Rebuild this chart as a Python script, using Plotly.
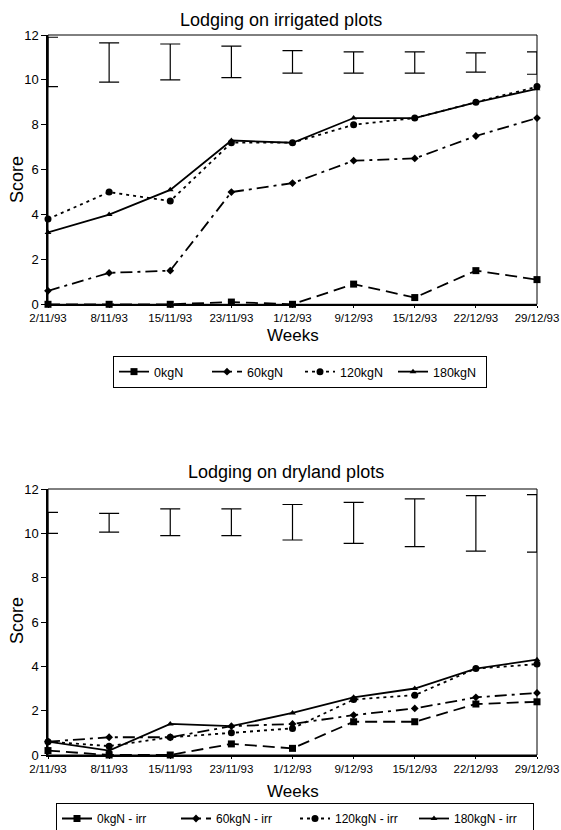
import plotly.graph_objects as go

weeks = ["2/11/93", "8/11/93", "15/11/93", "23/11/93", "1/12/93",
         "9/12/93", "15/12/93", "22/12/93", "29/12/93"]

# Irrigated plots
irr_0 = [0, 0, 0, 0.1, 0, 0.9, 0.3, 1.5, 1.1]
irr_60 = [0.6, 1.4, 1.5, 5.0, 5.4, 6.4, 6.5, 7.5, 8.3]
irr_120 = [3.8, 5.0, 4.6, 7.2, 7.2, 8.0, 8.3, 9.0, 9.7]
irr_180 = [3.2, 4.0, 5.1, 7.3, 7.2, 8.3, 8.3, 9.0, 9.6]
irr_bar_top = [11.9, 11.65, 11.6, 11.5, 11.3, 11.25, 11.25, 11.2, 11.25]
irr_bar_bottom = [9.7, 9.9, 10.0, 10.1, 10.3, 10.3, 10.3, 10.35, 10.25]

# Dryland plots
dry_0 = [0.2, 0, 0, 0.5, 0.3, 1.5, 1.5, 2.3, 2.4]
dry_60 = [0.6, 0.8, 0.8, 1.3, 1.4, 1.8, 2.1, 2.6, 2.8]
dry_120 = [0.6, 0.4, 0.8, 1.0, 1.2, 2.5, 2.7, 3.9, 4.1]
dry_180 = [0.6, 0.2, 1.4, 1.3, 1.9, 2.6, 3.0, 3.9, 4.3]
dry_bar_top = [10.95, 10.9, 11.1, 11.1, 11.3, 11.4, 11.55, 11.7, 11.75]
dry_bar_bottom = [10.0, 10.05, 9.9, 9.9, 9.7, 9.55, 9.4, 9.2, 9.15]

top_names = ["0kgN", "60kgN", "120kgN", "180kgN"]
bottom_names = ["0kgN - irr", "60kgN - irr", "120kgN - irr", "180kgN - irr"]

styles = [
    dict(dash="12px,6px", symbol="square", size=7),
    dict(dash="12px,5px,3px,5px", symbol="diamond", size=6),
    dict(dash="3px,4px", symbol="circle", size=7),
    dict(dash="solid", symbol="triangle-up", size=6),
]

FONT = "Liberation Sans, Arial, sans-serif"
xs = list(range(len(weeks)))

fig = go.Figure()


def add_panel(series, names, bar_top, bar_bottom, xa, ya, legend):
    mid = [(t + b) / 2 for t, b in zip(bar_top, bar_bottom)]
    half = [(t - b) / 2 for t, b in zip(bar_top, bar_bottom)]
    fig.add_trace(go.Scatter(
        x=xs, y=mid, mode="markers", xaxis=xa, yaxis=ya,
        marker=dict(size=1, color="rgba(0,0,0,0)"),
        error_y=dict(type="data", array=half, visible=True, color="black",
                     thickness=1.2, width=10),
        showlegend=False, hoverinfo="skip", cliponaxis=True,
    ))
    for vals, name, st in zip(series, names, styles):
        fig.add_trace(go.Scatter(
            x=xs, y=vals, name=name, mode="lines+markers",
            xaxis=xa, yaxis=ya, legend=legend, cliponaxis=False,
            line=dict(color="black", width=1.8, dash=st["dash"]),
            marker=dict(symbol=st["symbol"], size=st["size"], color="black"),
        ))


add_panel([irr_0, irr_60, irr_120, irr_180], top_names,
          irr_bar_top, irr_bar_bottom, "x", "y", "legend")
add_panel([dry_0, dry_60, dry_120, dry_180], bottom_names,
          dry_bar_top, dry_bar_bottom, "x2", "y2", "legend2")

W, H = 561, 830
# plot-area edges in page pixels
P_LEFT, P_RIGHT, P_TOP, P_BOTTOM = 48, 537, 35, 755
L, R, T, B = P_LEFT, W - P_RIGHT, P_TOP, H - P_BOTTOM
plot_h = H - T - B
plot_w = W - L - R


def py(page_y):
    return (H - B - page_y) / plot_h


def pxx(page_x):
    return (page_x - L) / plot_w


def cx(page_x):
    return page_x / W


xaxis_common = dict(
    range=[0, 8], tickmode="array", tickvals=xs, ticktext=weeks,
    showline=True, linecolor="black", linewidth=1.5,
    ticks="outside", ticklen=2, tickcolor="black",
    showgrid=False, zeroline=False,
    tickfont=dict(family=FONT, size=11.5, color="black"),
)
yaxis_common = dict(
    range=[0, 12], dtick=2, showline=True, linecolor="black", linewidth=1.5,
    ticks="outside", ticklen=5, tickcolor="black",
    showgrid=False, zeroline=False,
    tickfont=dict(family=FONT, size=13, color="black"),
)

fig.update_layout(
    width=W, height=H,
    margin=dict(l=L, r=R, t=T, b=B, autoexpand=False),
    paper_bgcolor="white", plot_bgcolor="white",
    font=dict(family=FONT, color="black"),
    xaxis=dict(**xaxis_common, anchor="y"),
    yaxis=dict(**yaxis_common, domain=[py(304.3), 1], anchor="x"),
    xaxis2=dict(**xaxis_common, anchor="y2"),
    yaxis2=dict(**yaxis_common, domain=[0, py(489)], anchor="x2"),
    legend=dict(orientation="h", xref="container", x=cx(300), xanchor="center",
                y=py(356), yanchor="top", bordercolor="black", borderwidth=1,
                font=dict(family=FONT, size=12.5, color="black"),
                bgcolor="white", entrywidth=48),
    legend2=dict(orientation="h", xref="container", x=cx(295), xanchor="center",
                 y=py(803), yanchor="top", bordercolor="black", borderwidth=1,
                 font=dict(family=FONT, size=12, color="black"),
                 bgcolor="white", entrywidth=74),
    showlegend=True,
)

# Plot-area frame (top and right borders)
for xr, yr in (("x domain", "y domain"), ("x2 domain", "y2 domain")):
    fig.add_shape(type="rect", xref=xr, yref=yr, x0=0, x1=1, y0=0, y1=1,
                  line=dict(color="black", width=1), layer="below")

ann = []
ann.append(dict(text="Lodging on irrigated plots", x=pxx(281), y=py(20)))
ann.append(dict(text="Lodging on dryland plots", x=pxx(286), y=py(472)))
for a in ann:
    a.update(xref="paper", yref="paper", showarrow=False,
             font=dict(family=FONT, size=18, color="black"),
             xanchor="center", yanchor="middle")
weeks_ann = [dict(text="Weeks", x=pxx(293), y=py(336)),
             dict(text="Weeks", x=pxx(293), y=py(791))]
for a in weeks_ann:
    a.update(xref="paper", yref="paper", showarrow=False,
             font=dict(family=FONT, size=17, color="black"),
             xanchor="center", yanchor="middle")
score_ann = [dict(text="Score", x=pxx(17), y=py(180)),
             dict(text="Score", x=pxx(17), y=py(621))]
for a in score_ann:
    a.update(xref="paper", yref="paper", showarrow=False, textangle=-90,
             font=dict(family=FONT, size=18, color="black"),
             xanchor="center", yanchor="middle")
fig.update_layout(annotations=ann + weeks_ann + score_ann)

fig.write_html(
    "out.html",
    config={"displayModeBar": False},
    post_script="document.body.style.margin='0';"
                "document.body.style.overflow='hidden';",
)
